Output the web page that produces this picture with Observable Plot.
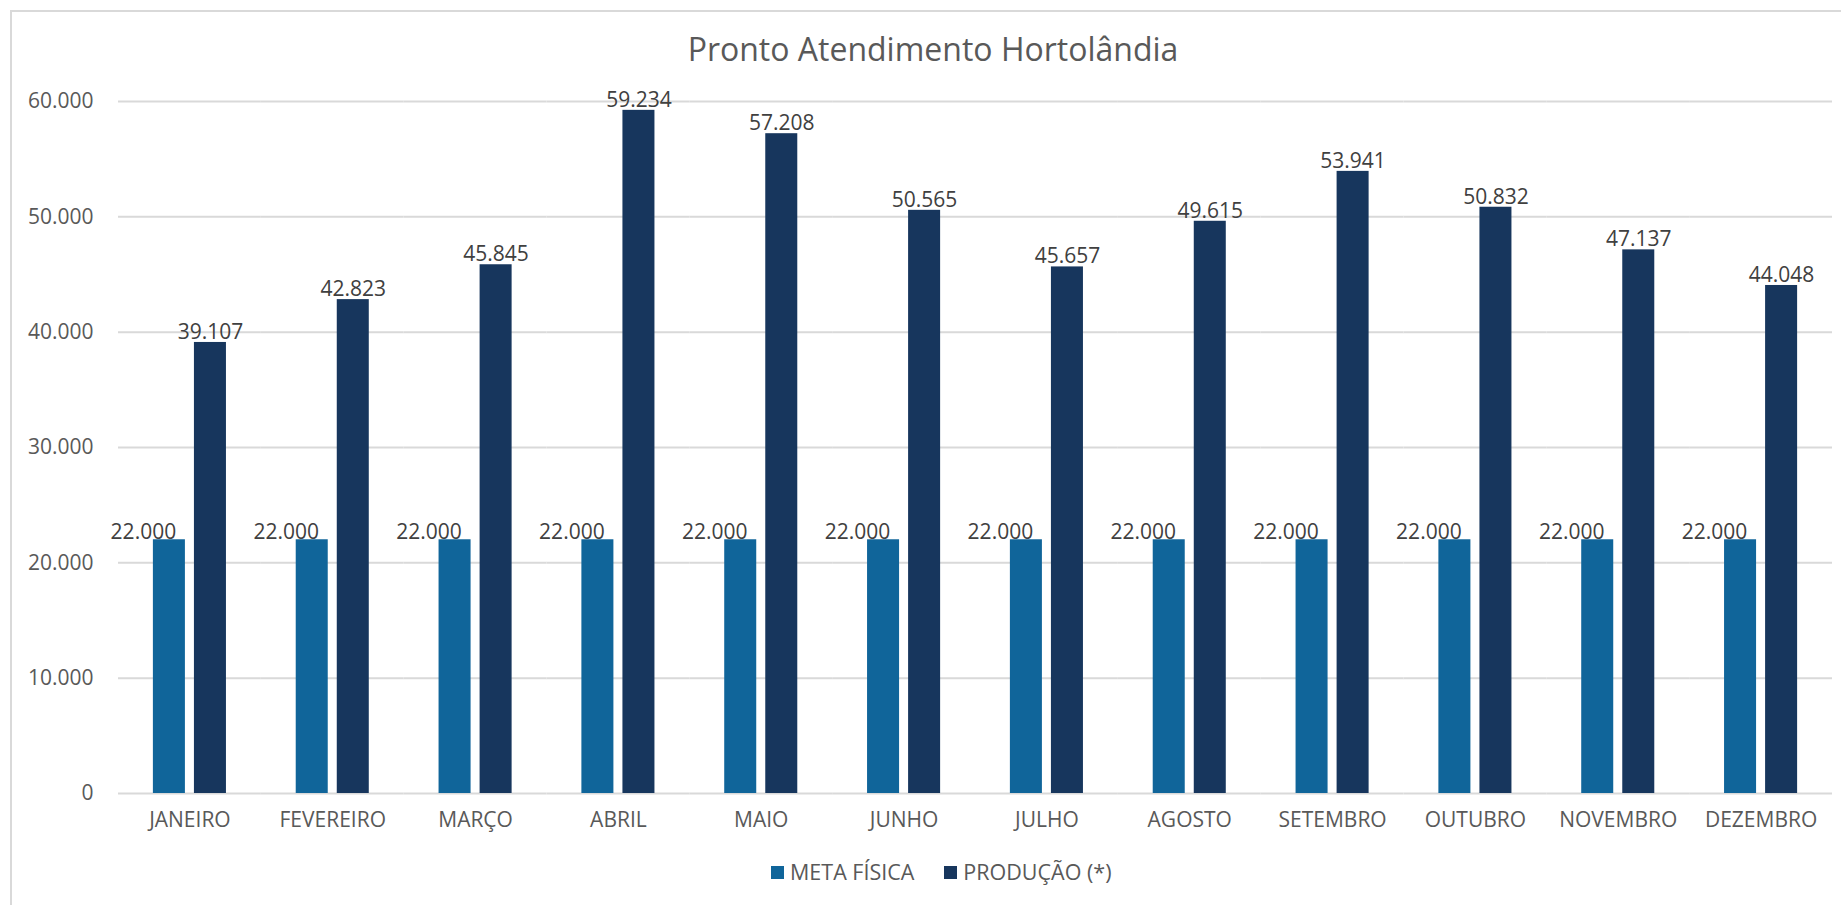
<!DOCTYPE html>
<html lang="pt-BR">
<head>
<meta charset="utf-8">
<title>Pronto Atendimento Hortolândia</title>
<script src="https://cdn.jsdelivr.net/npm/d3@7"></script>
<script src="https://cdn.jsdelivr.net/npm/@observablehq/plot@0.6"></script>
<style>
  html, body { margin: 0; padding: 0; background: #fff; }
  body { width: 1841px; height: 905px; position: relative; overflow: hidden; font-family: "Open Sans", sans-serif; }
  #frame { position: absolute; left: 10px; top: 10px; width: 1900px; height: 1000px;
           border-left: 2px solid #d9d9d9; border-top: 2px solid #d9d9d9; }
  #title { position: absolute; left: 0; width: 1866px; top: 27px; text-align: center;
           font-size: 32px; color: #595959; line-height: 44px; }
  #chart { position: absolute; left: 0; top: 80px; }
  #legend { position: absolute; left: 771px; top: 858px; display: flex; align-items: center;
            font-size: 21.5px; color: #595959; line-height: 28px; }
  #legend .item { display: flex; align-items: center; margin-right: 30px; }
  #legend .sw { width: 13px; height: 13px; margin-right: 6px; }
</style>
</head>
<body>
<div id="frame"></div>
<div id="title">Pronto Atendimento Hortolândia</div>
<div id="chart"></div>
<div id="legend"></div>
<script>
// Meses do ano
const months = ["JANEIRO", "FEVEREIRO", "MARÇO", "ABRIL", "MAIO", "JUNHO",
                "JULHO", "AGOSTO", "SETEMBRO", "OUTUBRO", "NOVEMBRO", "DEZEMBRO"];
// Séries
const series = ["META FÍSICA", "PRODUÇÃO (*)"];
const seriesColors = ["#10659a", "#17365d"];
// Valores mensais
const metaFisica = [22000, 22000, 22000, 22000, 22000, 22000, 22000, 22000, 22000, 22000, 22000, 22000];
const producao = [39107, 42823, 45845, 59234, 57208, 50565, 45657, 49615, 53941, 50832, 47137, 44048];
// Marcas do eixo Y
const yTicks = [0, 10000, 20000, 30000, 40000, 50000, 60000];

// Formato numérico brasileiro (ponto como separador de milhar)
const br = d3.formatLocale({decimal: ",", thousands: ".", grouping: [3], currency: ["R$", ""]});
const fmt = br.format(",d");

const rows = months.flatMap((m, i) => [
  {month: m, serie: series[0], value: metaFisica[i]},
  {month: m, serie: series[1], value: producao[i]}
]);
const metaRows = rows.filter(d => d.serie === series[0]);
const prodRows = rows.filter(d => d.serie === series[1]);

const chart = Plot.plot({
  width: 1841,
  height: 763,
  marginLeft: 118,
  marginRight: 9,
  marginTop: 21,
  marginBottom: 50,
  style: {fontFamily: "Open Sans, sans-serif", fontSize: "21px", color: "#595959", background: "transparent", overflow: "visible"},
  fx: {domain: months, padding: 0, round: false, label: null, axis: "bottom", tickSize: 0, tickPadding: 19},
  x: {domain: series, paddingInner: 0.22, paddingOuter: 0.85, round: false, axis: null},
  y: {domain: [0, 60000], ticks: yTicks, tickFormat: fmt, label: null, tickSize: 0, tickPadding: 25},
  color: {domain: series, range: seriesColors},
  marks: [
    Plot.ruleY(yTicks, {stroke: "#d9d9d9", strokeWidth: 2}),
    Plot.barY(rows, {fx: "month", x: "serie", y: "value", fill: "serie"}),
    Plot.text(metaRows, {fx: "month", x: "serie", y: "value", text: d => fmt(d.value),
      lineAnchor: "bottom", dy: -1, dx: -26, fill: "#404040", fontSize: 21}),
    Plot.text(prodRows, {fx: "month", x: "serie", y: "value", text: d => fmt(d.value),
      lineAnchor: "bottom", dy: -3.5, dx: 0, fill: "#404040", fontSize: 21})
  ]
});
document.getElementById("chart").appendChild(chart);

// Legenda
const legend = document.getElementById("legend");
series.forEach((s, i) => {
  const item = document.createElement("div");
  item.className = "item";
  const sw = document.createElement("span");
  sw.className = "sw";
  sw.style.background = seriesColors[i];
  const label = document.createElement("span");
  label.textContent = s;
  item.appendChild(sw);
  item.appendChild(label);
  legend.appendChild(item);
});
</script>
</body>
</html>
